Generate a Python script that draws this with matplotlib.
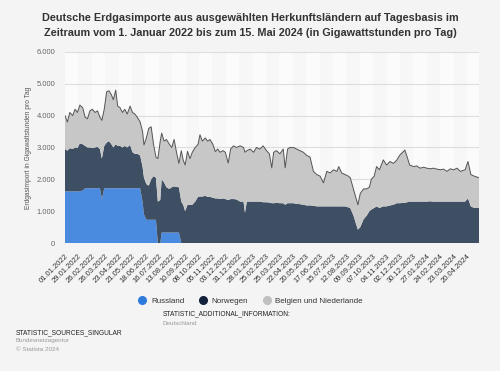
import numpy as np
import matplotlib
matplotlib.use('Agg')
import matplotlib.pyplot as plt
from matplotlib.lines import Line2D

plt.rcParams['font.family'] = ['Liberation Sans', 'DejaVu Sans']

# Tage seit 01.01.2022
tage = [0, 5, 10, 16, 21, 26, 31, 37, 42, 47, 52, 57, 63, 68, 73, 77, 82, 87, 92, 97,
        101, 106, 110, 115, 120, 125, 130, 136, 141, 146, 151, 157, 162, 165, 170, 175,
        180, 185, 190, 194, 199, 202, 207, 212, 218, 223, 228, 233, 238,
        243, 247, 251, 256, 261, 266, 272, 278, 282, 287, 293, 298, 303, 309, 314, 319,
        324, 330, 335, 341, 346, 352, 358, 366,
        373, 376, 380, 387, 394, 400, 407, 414, 421, 427, 432, 436, 442, 449, 456, 460,
        465, 470, 477, 484, 491, 498, 505, 512, 519, 526, 533, 540, 547, 554, 561, 568,
        572, 578, 585, 592, 596,
        603, 607, 612, 617, 624, 630, 636, 640, 646, 651, 657, 665, 672, 679, 686, 693,
        700, 707, 710, 715, 720, 728, 735, 742, 749, 756, 763, 770, 777, 784, 791, 798,
        805, 812, 819, 826, 836, 842, 848, 855, 865]

russland = ([1620] * 7 + [1650] + [1720] * 7 + [1380] + [1720] * 16 + [1300, 900]
            + [730] * 5 + [0, 0] + [330] * 8 + [0] * 102)

norwegen = [1330, 1280, 1360, 1330, 1380, 1360, 1510, 1450, 1330, 1280, 1280, 1260, 1280, 1300,
            1230, 1270, 1330, 1430, 1480, 1380, 1280, 1380, 1330, 1330, 1280, 1330, 1280, 1360,
            1130, 1080, 1080, 1030, 1100, 1150, 1120, 1070, 1270, 1370, 1320, 1300, 1350, 1670,
            1570, 1420, 1370, 1420, 1450, 1430, 1420,
            1300, 1200, 1000, 1200, 1200, 1200, 1300, 1450, 1460, 1460, 1480, 1450, 1450, 1420,
            1400, 1400, 1380, 1400, 1380, 1350, 1380, 1380, 1370, 1300,
            1300, 950, 1300, 1300, 1300, 1300, 1300, 1280, 1280, 1270,
            1250, 1250, 1260, 1250, 1250, 1200, 1250, 1250, 1250, 1230,
            1220, 1200, 1180, 1180, 1170, 1150, 1150, 1150, 1150, 1150,
            1150, 1150, 1150, 1150, 1150, 1120, 1100,
            850, 650, 420, 500, 750, 850, 1000, 1050, 1100, 1150,
            1100, 1150, 1150, 1180, 1200, 1250, 1250, 1260, 1260, 1280,
            1300, 1300, 1300, 1300, 1300, 1300, 1310, 1300, 1300, 1300,
            1300, 1300, 1300, 1300, 1300, 1300, 1300, 1400, 1150, 1100, 1100]

belgien_nl = [1050, 900, 1120, 1050, 1200, 1120, 1200, 1150, 900, 900, 1150, 1220, 1100, 1130,
              1000, 1200, 1150, 1600, 1580, 1550, 1500, 1700, 1250, 1200, 1100, 1150, 1050, 1220,
              1250, 1250, 1150, 1050, 1100, 1030, 1450, 1800, 1650, 1000, 650, 1350, 1850, 1450,
              1300, 1500, 1400, 1250, 1470, 1090, 750,
              1600, 1400, 1450, 1680, 1450, 1650, 1700, 1650, 1940, 1740, 1820, 1750, 1800, 1680,
              1470, 1550, 1470, 1500, 1470, 1160, 1570, 1670, 1630, 1750,
              1700, 1900, 1600, 1650, 1550, 1700, 1650, 1770, 1620, 1530,
              1110, 1600, 1640, 1550, 1700, 1160, 1700, 1750, 1750, 1720,
              1680, 1650, 1570, 1520, 1080, 1000, 950, 740, 1100, 1050,
              1150, 1100, 1250, 1050, 1000, 980, 950,
              820, 810, 780, 1060, 950, 850, 750, 950, 1000, 1250,
              1200, 1460, 1300, 1380, 1300, 1350, 1520, 1610, 1660, 1420,
              1150, 1100, 1120, 1050, 1080, 1050, 1020, 1050, 1020, 1000,
              1020, 950, 1030, 1000, 1050, 950, 1000, 1160, 1000, 1000, 950]

tick_labels = ['01.01.2022', '29.01.2022', '26.02.2022', '26.03.2022', '23.04.2022',
               '21.05.2022', '18.06.2022', '16.07.2022', '13.08.2022', '10.09.2022',
               '08.10.2022', '05.11.2022', '03.12.2022', '31.12.2022', '28.01.2023',
               '25.02.2023', '25.03.2023', '22.04.2023', '20.05.2023', '17.06.2023',
               '15.07.2023', '12.08.2023', '09.09.2023', '07.10.2023', '04.11.2023',
               '02.12.2023', '30.12.2023', '27.01.2024', '24.02.2024', '23.03.2024',
               '20.04.2024']

serien = ['Russland', 'Norwegen', 'Belgien und Niederlande']
farben = ['#4a8be0', '#3e4e63', '#c7c7c7']
legend_farben = ['#2f7bdc', '#13223a', '#c0c0c0']

x = np.array(tage)
r = np.array(russland)
n = np.array(norwegen)
b = np.array(belgien_nl)

fig = plt.figure(figsize=(5, 3.71), dpi=100, facecolor='#f4f4f4')
ax = fig.add_axes([0.13, 0.345, 0.828, 0.515])
ax.set_facecolor('#f7f7f7')

# helle Streifen im Hintergrund
for i in range(0, len(tick_labels), 2):
    ax.axvspan(i * 28, i * 28 + 28, color='#fbfbfb', lw=0, zorder=0)

for v in range(1000, 7000, 1000):
    ax.axhline(v, color='#dddddd', lw=0.8, zorder=1)

ax.stackplot(x, r, n, b, colors=farben, lw=0, zorder=2)
ax.plot(x, r + n + b, color='#555555', lw=0.7, zorder=3)

ax.set_xlim(0, 865)
ax.set_ylim(0, 6000)
ax.set_yticks(range(0, 7000, 1000))
ax.set_yticklabels(['0', '1.000', '2.000', '3.000', '4.000', '5.000', '6.000'])
ax.set_xticks([i * 28 for i in range(len(tick_labels))])
ax.set_xticklabels(tick_labels, rotation=45, ha='right', rotation_mode='anchor')
ax.tick_params(axis='y', length=0, labelsize=5.5, labelcolor='#666666', pad=7)
ax.tick_params(axis='x', length=0, labelsize=5.5, labelcolor='#333333', pad=7)
for s in ax.spines.values():
    s.set_visible(False)
ax.axhline(0, color='#666666', lw=0.6, zorder=4)
ax.set_ylabel('Erdgasimport in Gigawattstunden pro Tag', fontsize=4.8, color='#555555', labelpad=3)

fig.text(0.5, 0.965, 'Deutsche Erdgasimporte aus ausgewählten Herkunftsländern auf Tagesbasis im\n'
         'Zeitraum vom 1. Januar 2022 bis zum 15. Mai 2024 (in Gigawattstunden pro Tag)',
         ha='center', va='top', fontsize=7.8, fontweight='bold', color='#333333', linespacing=1.6)

handles = [Line2D([], [], ls='', marker='o', ms=5.5, color=c) for c in legend_farben]
fig.legend(handles, serien, loc='center', bbox_to_anchor=(0.497, 0.188), ncol=3, frameon=False,
           fontsize=5.8, handletextpad=0.1, columnspacing=1.3, labelcolor='#333333')

fig.text(0.325, 0.149, 'STATISTIC_ADDITIONAL_INFORMATION:', fontsize=4.8, color='#222222')
fig.text(0.325, 0.124, 'Deutschland', fontsize=4.5, color='#999999')
fig.text(0.032, 0.100, 'STATISTIC_SOURCES_SINGULAR', fontsize=4.8, color='#222222')
fig.text(0.032, 0.077, 'Bundesnetzagentur', fontsize=4.5, color='#999999')
fig.text(0.032, 0.055, '© Statista 2024', fontsize=4.5, color='#999999')

fig.savefig('out.png', dpi=100, facecolor=fig.get_facecolor())
